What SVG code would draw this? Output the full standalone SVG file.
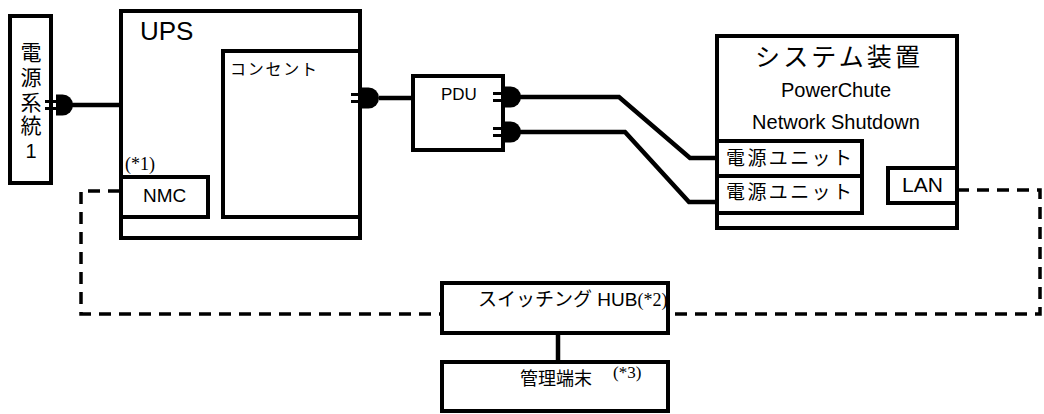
<svg xmlns="http://www.w3.org/2000/svg" xmlns:xlink="http://www.w3.org/1999/xlink" width="1044" height="414" viewBox="0 0 1044 414">
<style>
.box{fill:#fff;stroke:#000;stroke-width:4}
.cable{fill:none;stroke:#000;stroke-width:4.5}
.dash{fill:none;stroke:#000;stroke-width:3.5;stroke-dasharray:12 8}
.t{font-family:"Liberation Sans","Noto Sans CJK JP",sans-serif;fill:#000}
.s{font-family:"Liberation Serif",serif;fill:#000}
</style>
<defs>
<g id="plug">
<rect x="-11" y="-5" width="11" height="3" fill="#000"/>
<rect x="-11" y="2" width="11" height="3" fill="#000"/>
<path d="M0,-10.5 H6.5 A10.5,10.5 0 0 1 6.5,10.5 H0 Z" fill="#000"/>
</g>
</defs>
<rect width="1044" height="414" fill="#fff"/>

<g id="connectors">
<path class="cable" d="M72,105 H121"/>
<path class="cable" d="M379,98 H413"/>
<path class="cable" d="M520,97 H619 L690,158 H717"/>
<path class="cable" d="M520,132 H625 L689,202 H715"/>
<path class="cable" d="M558,333 V362" stroke-width="5"/>
<path class="dash" d="M120,191 H81 V314 H442"/>
<path class="dash" d="M957,190 H1040 V314 H668"/>
</g>

<g id="power-source">
<rect class="box" x="10" y="16" width="41" height="167"/>
<text class="t" font-size="21" text-anchor="middle" x="31" y="60">電</text>
<text class="t" font-size="21" text-anchor="middle" x="31" y="85">源</text>
<text class="t" font-size="21" text-anchor="middle" x="31" y="110">系</text>
<text class="t" font-size="21" text-anchor="middle" x="31" y="133">統</text>
<text class="t" font-size="20" text-anchor="middle" x="31" y="158">1</text>
<use xlink:href="#plug" x="56" y="105"/>
</g>

<g id="ups">
<rect class="box" x="121" y="11" width="239" height="227"/>
<text class="t" font-size="26" x="140" y="40">UPS</text>
</g>

<g id="outlet">
<rect class="box" x="223" y="51" width="137" height="166"/>
<text class="t" font-size="16" x="230" y="75" textLength="87">コンセント</text>
<use xlink:href="#plug" x="362" y="98"/>
</g>

<g id="nmc">
<text class="s" font-size="18" x="125" y="170">(*1)</text>
<rect class="box" x="121" y="177" width="87" height="40"/>
<text class="t" font-size="19" x="143" y="202">NMC</text>
</g>

<g id="pdu">
<rect class="box" x="413" y="76" width="90" height="74"/>
<text class="t" font-size="17" x="441" y="100">PDU</text>
<use xlink:href="#plug" x="504" y="97"/>
<use xlink:href="#plug" x="504" y="132"/>
</g>

<g id="system">
<rect class="box" x="717" y="36" width="240" height="192"/>
<text class="t" font-size="25" x="755" y="66" textLength="165">システム装置</text>
<text class="t" font-size="20" text-anchor="middle" x="836" y="97">PowerChute</text>
<text class="t" font-size="20" text-anchor="middle" x="836" y="129">Network Shutdown</text>
</g>

<g id="psu1">
<rect class="box" x="717" y="141" width="145" height="35"/>
<text class="t" font-size="19" x="726" y="165" textLength="126">電源ユニット</text>
</g>

<g id="psu2">
<rect class="box" x="717" y="176" width="145" height="37"/>
<text class="t" font-size="19" x="726" y="199" textLength="126">電源ユニット</text>
</g>

<g id="lan">
<rect class="box" x="888" y="168" width="69" height="35"/>
<text class="t" font-size="21" x="902" y="192">LAN</text>
</g>

<g id="hub">
<rect class="box" x="442" y="283" width="226" height="50"/>
<text class="t" font-size="19" x="478" y="306">スイッチング HUB<tspan class="s" font-size="18">(*2)</tspan></text>
</g>

<g id="terminal">
<rect class="box" x="442" y="362" width="226" height="49"/>
<text class="t" font-size="18" x="520" y="385" textLength="72">管理端末</text>
<text class="s" font-size="17" x="613" y="378">(*3)</text>
</g>
</svg>
